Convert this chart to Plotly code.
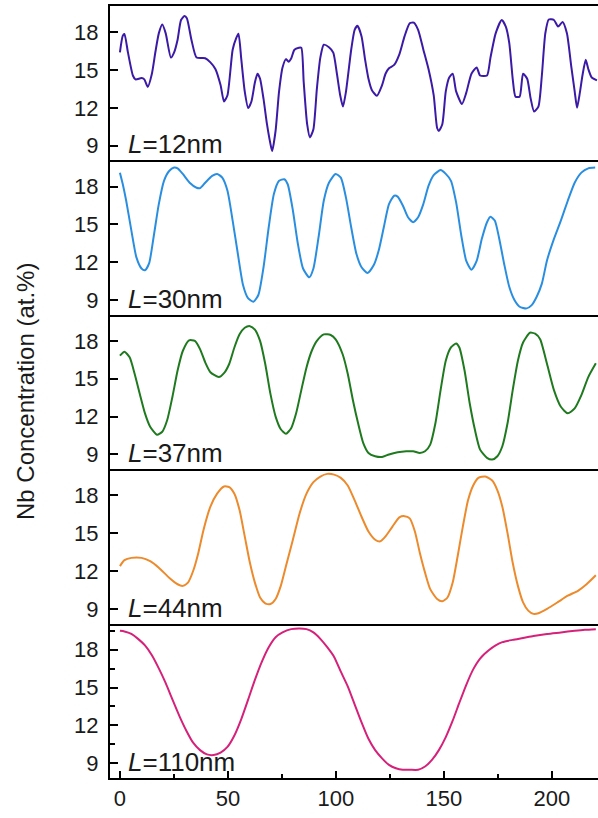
import plotly.graph_objects as go
from plotly.subplots import make_subplots

# Nb concentration profiles (at.%) along position for five wavelengths L
x_12 = [0, 1.3, 2.1, 3.7, 6.0, 7.2, 10.0, 11.3, 12.9, 14.8, 16.4, 18.0, 19.6, 21.2, 23.6, 25.1,
        26.7, 28.3, 29.9, 31.0, 33.1, 35.5, 39.5, 41.9, 44.2, 46.6, 48.2, 49.8, 52.2, 53.8, 54.9,
        56.2, 57.8, 59.4, 60.9, 62.5, 63.7, 64.9, 66.5, 68.1, 69.7, 70.5, 72.1, 73.7, 75.3, 76.9,
        78.1, 79.3, 80.8, 82.9, 84.0, 85.1, 86.7, 88.0, 89.6, 91.2, 92.8, 94.4, 96.8, 98.8, 100.4,
        102.0, 103.3, 104.7, 107.1, 108.7, 110.0, 111.9, 113.5, 115.1, 116.7, 119.0, 121.4, 123.0,
        124.6, 127.0, 129.4, 131.8, 134.2, 136.1, 138.1, 140.5, 142.9, 145.3, 146.9, 147.7, 149.3,
        150.9, 152.5, 154.1, 155.7, 158.4, 160.4, 162.8, 165.2, 166.8, 170.0, 171.6, 174.0, 176.8,
        178.7, 180.3, 181.9, 183.2, 185.1, 186.7, 188.6, 190.2, 191.8, 193.8, 195.4, 197.0, 198.6,
        201.0, 202.9, 205.0, 207.0, 209.0, 210.6, 211.7, 213.0, 214.2, 215.7, 216.9, 218.5, 220.9]
y_12 = [16.4, 17.7, 17.85, 16.4, 14.56, 14.25, 14.36, 14.25, 13.66, 14.7, 16.4, 17.9, 18.6, 17.9,
        15.98, 16.4, 17.4, 18.96, 19.27, 19.1, 17.4, 15.98, 15.93, 15.6, 15.08, 13.8, 12.5, 13.0,
        16.6, 17.5, 17.87, 15.86, 13.3, 11.98, 12.5, 14.0, 14.7, 14.3, 12.7, 10.7, 9.14, 8.57, 10.2,
        13.3, 15.2, 15.86, 15.65, 15.9, 16.6, 16.76, 16.76, 14.05, 10.7, 9.65, 10.3, 13.5, 15.98,
        17.0, 16.8, 16.37, 14.8, 13.0, 12.1, 13.3, 16.6, 18.18, 18.5, 17.66, 15.86, 14.3, 13.4,
        12.96, 13.8, 14.7, 15.13, 15.4, 16.24, 17.66, 18.7, 18.75, 18.18, 16.63, 15.08, 13.0, 10.4,
        10.17, 10.7, 13.3, 14.4, 14.7, 13.3, 12.3, 13.2, 14.7, 15.2, 14.56, 14.56, 15.98, 17.9,
        18.96, 18.44, 17.15, 14.3, 12.88, 12.88, 14.7, 14.3, 12.75, 11.7, 12.1, 14.56, 17.9, 19.0,
        18.96, 18.44, 18.8, 17.9, 15.3, 13.3, 12.0, 13.2, 14.56, 15.8, 15.08, 14.4, 14.18]

x_30 = [0, 1.3, 2.9, 5.3, 7.6, 10.0, 11.6, 13.5, 15.6, 18.0, 20.4, 22.8, 25.1, 26.7, 29.1, 32.3,
        35.5, 37.1, 39.5, 42.7, 45.0, 47.4, 49.8, 52.2, 54.6, 57.0, 59.4, 61.8, 64.1, 66.5, 68.9,
        71.3, 73.7, 76.1, 77.7, 80.1, 82.4, 84.8, 87.7, 89.6, 92.0, 94.4, 96.8, 99.9, 102.3, 104.7,
        107.1, 109.5, 111.9, 114.7, 117.5, 119.8, 122.2, 124.6, 127.0, 128.6, 131.0, 133.4, 135.8,
        138.1, 140.5, 142.9, 145.3, 148.5, 150.9, 153.3, 155.7, 158.1, 160.4, 162.8, 165.2, 167.6,
        170.0, 171.6, 173.6, 175.5, 177.9, 180.3, 182.7, 185.1, 188.3, 190.7, 193.0, 195.4, 197.8,
        201.0, 204.2, 207.4, 210.6, 213.7, 216.9, 220.1]
y_30 = [19.1, 18.2, 16.87, 14.5, 12.4, 11.5, 11.36, 11.9, 14.0, 16.6, 18.45, 19.23, 19.5, 19.44,
        19.0, 18.3, 17.9, 17.87, 18.3, 18.84, 19.0, 18.7, 17.66, 15.3, 12.67, 10.2, 9.13, 8.87, 9.4,
        11.6, 14.77, 17.4, 18.45, 18.58, 18.18, 16.1, 13.46, 11.5, 10.8, 11.5, 14.0, 16.87, 18.3,
        19.0, 18.7, 17.1, 14.77, 12.67, 11.6, 11.15, 11.75, 12.9, 14.77, 16.6, 17.27, 17.2, 16.5,
        15.56, 15.17, 15.56, 16.6, 18.05, 18.9, 19.3, 19.0, 18.45, 16.74, 14.1, 12.1, 11.4, 12.1,
        13.85, 15.17, 15.6, 15.3, 14.0, 11.9, 10.05, 9.0, 8.47, 8.34, 8.6, 9.26, 10.3, 12.15, 13.85,
        15.3, 16.87, 18.3, 19.1, 19.44, 19.5]

x_37 = [0, 2.1, 4.5, 6.8, 9.2, 11.6, 14.0, 17.2, 19.6, 21.9, 24.3, 26.7, 29.1, 32.0, 34.7, 37.1,
        39.5, 41.9, 45.8, 48.2, 50.6, 53.0, 55.4, 57.8, 60.2, 62.5, 64.9, 67.3, 69.7, 72.1, 74.5,
        76.9, 79.3, 81.6, 84.0, 86.4, 88.8, 91.2, 94.4, 97.6, 99.9, 103.1, 105.5, 107.9, 110.3,
        112.7, 115.1, 118.2, 121.4, 124.6, 128.6, 132.6, 135.8, 138.9, 141.3, 143.7, 146.1, 148.5,
        150.9, 153.3, 155.7, 157.2, 159.6, 162.0, 164.4, 166.8, 170.0, 172.4, 174.8, 177.1, 179.5,
        181.9, 184.3, 186.7, 189.9, 192.3, 194.6, 197.8, 201.0, 204.2, 207.4, 210.6, 213.7, 216.9,
        220.4]
y_37 = [16.83, 17.14, 16.7, 15.4, 13.8, 12.26, 11.2, 10.56, 10.8, 11.73, 13.56, 15.65, 17.2,
        18.05, 18.0, 17.35, 16.3, 15.52, 15.13, 15.44, 16.17, 17.48, 18.52, 19.04, 19.17, 18.9,
        18.0, 16.17, 13.8, 12.0, 11.0, 10.64, 11.08, 12.26, 14.1, 15.9, 17.2, 18.0, 18.52, 18.47,
        18.13, 16.96, 15.4, 13.3, 11.47, 9.9, 9.12, 8.86, 8.8, 9.0, 9.17, 9.25, 9.25, 9.12, 9.25,
        9.78, 11.47, 14.1, 16.43, 17.48, 17.8, 17.48, 15.65, 13.04, 10.95, 9.38, 8.73, 8.6, 8.86,
        9.65, 11.47, 14.1, 16.43, 17.87, 18.65, 18.57, 18.13, 16.17, 14.1, 12.78, 12.26, 12.65,
        13.7, 15.13, 16.22]

x_44 = [0, 2.1, 5.3, 10.0, 14.0, 18.0, 22.8, 26.7, 29.1, 31.5, 33.9, 36.3, 38.7, 41.9, 45.0,
        48.2, 50.6, 53.0, 55.4, 57.8, 60.2, 62.5, 64.9, 67.3, 69.7, 72.1, 74.5, 76.9, 80.1, 83.2,
        86.4, 89.6, 92.8, 96.0, 99.2, 102.3, 105.5, 108.7, 111.9, 115.1, 118.2, 120.6, 123.0,
        126.2, 129.4, 131.8, 134.2, 136.6, 138.9, 141.3, 143.7, 146.9, 149.3, 151.7, 154.1, 156.4,
        158.8, 161.2, 163.6, 166.0, 169.2, 172.4, 174.8, 177.1, 179.5, 181.9, 184.3, 186.7, 189.1,
        191.5, 193.8, 197.8, 202.6, 207.4, 212.1, 216.1, 220.4]
y_44 = [12.39, 12.86, 13.04, 13.04, 12.78, 12.26, 11.47, 10.95, 10.82, 11.08, 12.0, 13.43, 15.26,
        17.1, 18.13, 18.7, 18.65, 18.13, 16.83, 14.74, 12.65, 11.08, 9.9, 9.44, 9.38, 9.78, 10.82,
        12.39, 14.48, 16.56, 18.13, 19.04, 19.49, 19.7, 19.64, 19.38, 18.78, 17.6, 16.3, 15.13,
        14.48, 14.35, 14.74, 15.52, 16.25, 16.35, 16.17, 15.13, 13.43, 11.87, 10.56, 9.78, 9.6,
        9.9, 11.08, 13.17, 15.52, 17.6, 18.78, 19.38, 19.49, 19.17, 18.4, 17.1, 15.0, 12.65, 10.82,
        9.51, 8.86, 8.6, 8.65, 9.0, 9.51, 10.04, 10.43, 10.95, 11.66]

x_110 = [0, 2.1, 5.3, 8.4, 11.6, 14.8, 18.0, 21.2, 24.3, 27.5, 30.7, 33.9, 37.1, 40.3, 43.4, 46.6,
         49.8, 53.0, 56.2, 59.4, 62.5, 65.7, 68.9, 72.1, 75.3, 79.3, 83.2, 86.4, 89.6, 92.8, 96.0,
         99.2, 102.3, 105.5, 108.7, 111.9, 115.1, 118.2, 121.4, 124.6, 127.8, 131.0, 134.2, 138.1,
         141.3, 144.5, 147.7, 150.9, 154.1, 157.2, 160.4, 163.6, 166.8, 170.8, 174.0, 177.1, 181.9,
         186.7, 191.5, 197.8, 204.2, 210.6, 215.3, 220.4]
y_110 = [19.5, 19.45, 19.25, 18.86, 18.34, 17.56, 16.52, 15.35, 14.06, 12.76, 11.6, 10.63, 10.04,
         9.7, 9.65, 9.85, 10.3, 11.2, 12.5, 14.06, 15.61, 17.04, 18.2, 18.99, 19.37, 19.63, 19.69,
         19.63, 19.37, 18.86, 18.2, 17.43, 16.26, 15.1, 13.67, 12.24, 10.94, 10.04, 9.39, 8.87, 8.6,
         8.48, 8.48, 8.48, 8.74, 9.26, 10.04, 11.07, 12.37, 13.8, 15.22, 16.44, 17.3, 17.95, 18.34,
         18.6, 18.78, 18.93, 19.09, 19.25, 19.37, 19.5, 19.58, 19.63]

panel_labels = ["12nm", "30nm", "37nm", "44nm", "110nm"]
series_x = [x_12, x_30, x_37, x_44, x_110]
series_y = [y_12, y_30, y_37, y_44, y_110]
colors = ["#3a1aa6", "#2a8ee0", "#1f7a1f", "#ec8a2c", "#d6217a"]

y_ticks = [9, 12, 15, 18]
y_minor = [10.5, 13.5, 16.5, 19.5]
x_ticks = [0, 50, 100, 150, 200]
x_minor = [25, 75, 125, 175]
x_range = [-4.6, 221.4]
y_range = [7.83, 20.07]

FONT = "Liberation Sans, Arial, sans-serif"
TXT = "#1a1a1a"

fig = make_subplots(rows=5, cols=1, shared_xaxes=True, vertical_spacing=0)

for i, (xs, ys, col, lab) in enumerate(zip(series_x, series_y, colors, panel_labels)):
    r = i + 1
    fig.add_trace(
        go.Scatter(x=xs, y=ys, mode="lines",
                   line=dict(color=col, width=2, shape="spline", smoothing=0.6),
                   showlegend=False, hoverinfo="skip"),
        row=r, col=1)
    is_bottom = r == 5
    fig.update_yaxes(
        range=y_range, tickvals=y_ticks, ticks="inside", ticklen=8, tickwidth=2,
        tickcolor="black", showline=True, linewidth=2, linecolor="black",
        showgrid=False, zeroline=False, ticklabelstandoff=5,
        tickfont=dict(family=FONT, size=22, color=TXT),
        minor=dict(tickvals=y_minor, ticks="inside", ticklen=5, tickwidth=2,
                   tickcolor="black") if is_bottom else None,
        row=r, col=1)
    # only the top panel mirrors its x line, so each separator is a single line
    fig.update_xaxes(
        range=x_range, showline=True, mirror=(r == 1), linewidth=2, linecolor="black",
        showgrid=False, zeroline=False,
        tickvals=x_ticks if is_bottom else [],
        ticks="inside" if is_bottom else "", ticklen=7, tickwidth=2, tickcolor="black",
        showticklabels=is_bottom,
        tickfont=dict(family=FONT, size=22, color=TXT),
        minor=dict(tickvals=x_minor, ticks="inside", ticklen=4, tickwidth=2,
                   tickcolor="black") if is_bottom else None,
        row=r, col=1)
    xref = "x" if r == 1 else f"x{r}"
    yref = "y" if r == 1 else f"y{r}"
    fig.add_annotation(
        x=0.032, xref=f"{xref} domain", y=9.1, yref=yref,
        xanchor="left", yanchor="middle", showarrow=False,
        text=f"<i>L</i>={lab}",
        font=dict(family=FONT, size=26, color=TXT))

fig.add_annotation(
    x=-(110 - 25) / 488, xref="paper", y=0.5, yref="paper",
    xanchor="center", yanchor="middle",
    showarrow=False, textangle=-90, text="Nb Concentration (at.%)",
    font=dict(family=FONT, size=24, color=TXT))

fig.update_layout(
    width=598, height=818,
    margin=dict(l=110, r=0, t=6, b=40),
    paper_bgcolor="white", plot_bgcolor="white",
)

fig.write_html("out.html")
